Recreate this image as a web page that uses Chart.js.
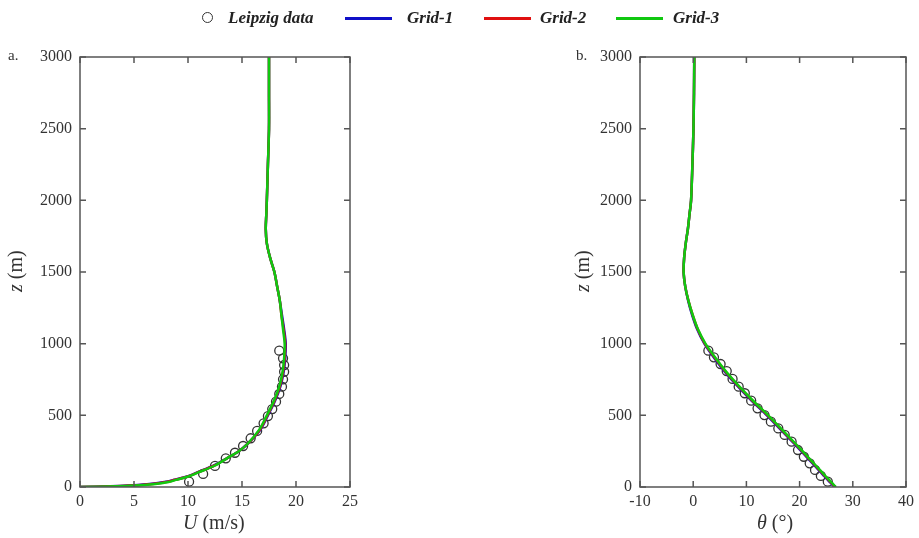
<!DOCTYPE html>
<html>
<head>
<meta charset="utf-8">
<script src="https://cdn.jsdelivr.net/npm/chart.js@4.4.1/dist/chart.umd.min.js"></script>
<style>
  body { margin: 0; background: #fff; width: 919px; height: 538px; position: relative; overflow: hidden;
         font-family: "Liberation Serif", "DejaVu Serif", serif; color: #333; }
  canvas { position: absolute; top: 0; }
  .lbl { position: absolute; white-space: nowrap; }
  .leg { position: absolute; top: 8px; font-size: 17px; font-weight: bold; font-style: italic; color: #222; }
  .swatch { position: absolute; top: 17px; height: 3px; width: 47px; }
  .circ { position: absolute; top: 12px; left: 202px; width: 9px; height: 9px; border: 1.6px solid #333; border-radius: 50%; }
  .title { position: absolute; font-size: 20px; color: #333; white-space: nowrap; }
</style>
</head>
<body>
<canvas id="chartA" width="460" height="538" style="left:0"></canvas>
<canvas id="chartB" width="459" height="538" style="left:460px"></canvas>

<!-- legend -->
<div class="circ"></div>
<div class="leg" style="left:228px">Leipzig data</div>
<div class="swatch" style="left:345px; background:#1010c8"></div>
<div class="leg" style="left:407px">Grid-1</div>
<div class="swatch" style="left:484px; background:#e01010"></div>
<div class="leg" style="left:540px">Grid-2</div>
<div class="swatch" style="left:616px; background:#10c810"></div>
<div class="leg" style="left:673px">Grid-3</div>

<!-- panel labels and axis titles -->
<div class="lbl" style="left:8px; top:47px; font-size:15px">a.</div>
<div class="lbl" style="left:576px; top:47px; font-size:15px">b.</div>
<div class="title" style="left:183px; top:511px"><i>U</i> (m/s)</div>
<div class="title" style="left:757px; top:511px"><i>θ</i> (°)</div>
<div class="title" style="left:-4px; top:260px; transform: rotate(-90deg); transform-origin: 20px 12px"><i>z</i> (m)</div>
<div class="title" style="left:563px; top:260px; transform: rotate(-90deg); transform-origin: 20px 12px"><i>z</i> (m)</div>

<script>
// heights shared by the model profiles (m)
const zProfile = [0, 5, 10, 20, 35, 50, 75, 100, 150, 200, 250, 300, 400, 500, 600, 700, 800, 900,
  1000, 1100, 1200, 1300, 1400, 1500, 1600, 1700, 1800, 1900, 2000, 2250, 2500, 2750, 3000];

// panel a: wind speed U (m/s)
const uGrid1 = [0, 2.8, 4.4, 6.2, 7.8, 8.7, 10.0, 10.8, 12.4, 13.6, 14.7, 15.5, 16.7, 17.4, 18.05, 18.55, 18.85, 19.0,
  19.05, 18.9, 18.7, 18.5, 18.25, 18.0, 17.6, 17.3, 17.2, 17.25, 17.3, 17.4, 17.5, 17.5, 17.5];
const uGrid2 = [0, 3.1, 4.7, 6.5, 8.0, 8.8, 10.05, 10.85, 12.45, 13.6, 14.7, 15.5, 16.65, 17.35, 18.0, 18.5, 18.8, 18.95,
  19.0, 18.85, 18.65, 18.5, 18.25, 18.0, 17.6, 17.3, 17.2, 17.25, 17.3, 17.4, 17.5, 17.5, 17.5];
const uGrid3 = [0, 3.4, 5.0, 6.8, 8.2, 8.9, 10.1, 10.9, 12.5, 13.6, 14.7, 15.5, 16.6, 17.3, 17.95, 18.45, 18.75, 18.9,
  18.95, 18.8, 18.65, 18.5, 18.25, 18.0, 17.6, 17.3, 17.2, 17.25, 17.3, 17.4, 17.5, 17.5, 17.5];
const obsZ_a = [37, 91, 147, 200, 239, 286, 340, 391, 444, 495, 544, 595, 649, 700, 751, 804, 851, 898, 951];
const obsU = [10.1, 11.4, 12.5, 13.5, 14.35, 15.1, 15.8, 16.4, 17.0, 17.4, 17.8, 18.15, 18.45, 18.7, 18.8, 18.9, 18.9, 18.8, 18.45];

// panel b: wind direction theta (deg)
const thGrid1 = [26.55, 26.45, 26.3, 26.05, 25.65, 25.3, 24.65, 24.05, 22.8, 21.55, 20.3, 19.05, 16.45, 13.85, 11.05, 8.45, 6.05, 3.95,
  2.1, 0.75, -0.2, -0.95, -1.5, -1.8, -1.7, -1.4, -1.0, -0.7, -0.4, -0.15, 0.05, 0.15, 0.2];
const thGrid2 = [26.7, 26.6, 26.45, 26.2, 25.8, 25.45, 24.8, 24.2, 22.95, 21.7, 20.45, 19.2, 16.6, 14.0, 11.2, 8.6, 6.2, 4.1,
  2.2, 0.85, -0.1, -0.9, -1.5, -1.8, -1.7, -1.4, -1.0, -0.7, -0.4, -0.15, 0.05, 0.15, 0.2];
const thGrid3 = [26.8, 26.7, 26.55, 26.3, 25.9, 25.55, 24.9, 24.3, 23.05, 21.8, 20.55, 19.3, 16.7, 14.1, 11.3, 8.7, 6.3, 4.2,
  2.3, 0.9, -0.1, -0.9, -1.5, -1.8, -1.7, -1.4, -1.0, -0.7, -0.4, -0.15, 0.05, 0.15, 0.2];
const obsZ_b = [37, 77, 119, 165, 211, 258, 316, 363, 409, 456, 502, 549, 602, 654, 700, 754, 809, 858, 905, 951];
const obsTheta = [25.3, 24.0, 22.9, 21.9, 20.8, 19.7, 18.5, 17.2, 16.0, 14.6, 13.4, 12.1, 10.9, 9.7, 8.55, 7.4, 6.3, 5.15, 3.9, 2.85];

const zTicks = [0, 500, 1000, 1500, 2000, 2500, 3000];

function pairs(xs, zs) {
  return xs.map((v, i) => ({ x: v, y: zs[i] }));
}

// frame around the plot and inward ticks on all four sides
const frameTicks = {
  id: 'frameTicks',
  afterDatasetsDraw(chart) {
    const { ctx, chartArea: a, scales: { x, y } } = chart;
    ctx.save();
    ctx.strokeStyle = '#555';
    ctx.lineWidth = 1.5;
    ctx.strokeRect(a.left, a.top, a.right - a.left, a.bottom - a.top);
    ctx.beginPath();
    x.ticks.forEach(t => {
      const px = x.getPixelForValue(t.value);
      ctx.moveTo(px, a.bottom); ctx.lineTo(px, a.bottom - 6);
      ctx.moveTo(px, a.top); ctx.lineTo(px, a.top + 6);
    });
    y.ticks.forEach(t => {
      const py = y.getPixelForValue(t.value);
      ctx.moveTo(a.left, py); ctx.lineTo(a.left + 6, py);
      ctx.moveTo(a.right, py); ctx.lineTo(a.right - 6, py);
    });
    ctx.stroke();
    ctx.restore();
  }
};

function makeChart(id, xVals, obsX, obsZ, xMin, xMax, xStep, yWidth, padRight) {
  // lower order is drawn on top: Grid-3 ends up uppermost
  const lineSet = (label, data, color, order) => ({
    label: label, data: pairs(data, zProfile), showLine: true, borderColor: color,
    borderWidth: 2.5, pointRadius: 0, tension: 0.3, fill: false, order: order
  });
  return new Chart(document.getElementById(id), {
    type: 'scatter',
    data: {
      datasets: [
        { label: 'Leipzig data', data: pairs(obsX, obsZ), pointRadius: 4.5, pointBorderWidth: 1.3,
          pointBorderColor: '#333', pointBackgroundColor: 'rgba(255,255,255,0)', showLine: false, order: 5 },
        lineSet('Grid-1', xVals[0], '#1010c8', 3),
        lineSet('Grid-2', xVals[1], '#e01010', 2),
        lineSet('Grid-3', xVals[2], '#10c810', 1)
      ]
    },
    options: {
      responsive: false,
      animation: false,
      devicePixelRatio: 1,
      layout: { padding: { top: 57, right: padRight, left: 0, bottom: 0 } },
      plugins: { legend: { display: false }, tooltip: { enabled: false } },
      scales: {
        x: {
          type: 'linear', min: xMin, max: xMax,
          grid: { display: false, drawTicks: false }, border: { display: false },
          ticks: { stepSize: xStep, padding: 5, color: '#333',
                   font: { family: 'Liberation Serif', size: 16 }, callback: v => String(v) },
          afterFit: s => { s.height = 51; }
        },
        y: {
          type: 'linear', min: 0, max: 3000,
          grid: { display: false, drawTicks: false }, border: { display: false },
          afterBuildTicks: s => { s.ticks = zTicks.map(v => ({ value: v })); },
          ticks: { padding: 8, color: '#333',
                   font: { family: 'Liberation Serif', size: 16 }, callback: v => String(v) },
          afterFit: s => { s.width = yWidth; }
        }
      }
    },
    plugins: [frameTicks]
  });
}

makeChart('chartA', [uGrid1, uGrid2, uGrid3], obsU, obsZ_a, 0, 25, 5, 80, 110);
makeChart('chartB', [thGrid1, thGrid2, thGrid3], obsTheta, obsZ_b, -10, 40, 10, 180, 10);
</script>
</body>
</html>
